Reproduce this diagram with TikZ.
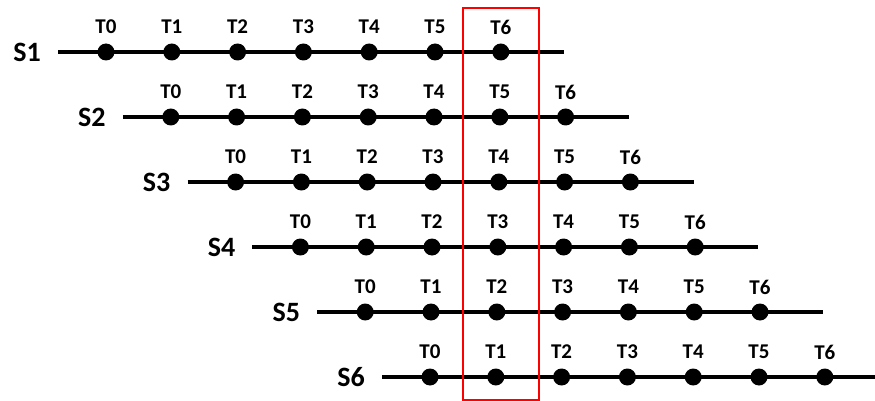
\documentclass[tikz,border=0pt]{standalone}
\usepackage{fontspec}
\setmainfont{Carlito}
\begin{document}
\begin{tikzpicture}[x=1pt,y=-1pt,
  tl/.style={font=\bfseries\fontsize{21}{21}\selectfont, inner sep=0pt},
  sl/.style={font=\bfseries\fontsize{28}{28}\selectfont, inner sep=0pt},
  dotn/.style={circle, fill=black, minimum size=17pt, inner sep=0pt},
  tline/.style={line width=4pt}]
\useasboundingbox (0,0) rectangle (875,401);
\foreach \i in {0,...,5}{
  \pgfmathsetmacro{\yy}{52+65*\i}
  \pgfmathsetmacro{\xs}{58+64.8*\i}
  \pgfmathsetmacro{\xe}{min(875,58+64.8*\i+506)}
  \pgfmathtruncatemacro{\n}{\i+1}
  \coordinate (a\i) at (\xs,\yy);
  \coordinate (b\i) at (\xe,\yy);
  \draw[tline] (a\i) -- (b\i);
  \node[sl, anchor=east] (s\i) at (\xs-17,\yy) {S\n};
  \foreach \k in {0,...,6}{
    \pgfmathsetmacro{\xd}{106+64.8*\i+65.8*\k}
    \node[dotn] (d\i\k) at (\xd,\yy) {};
    \node[tl] (t\i\k) at (\xd,\yy-25) {T\k};
  }
}
\node[draw=red, line width=1.5pt, minimum width=76pt, minimum height=392pt, inner sep=0pt] (box) at (501,204) {};
\end{tikzpicture}
\end{document}
